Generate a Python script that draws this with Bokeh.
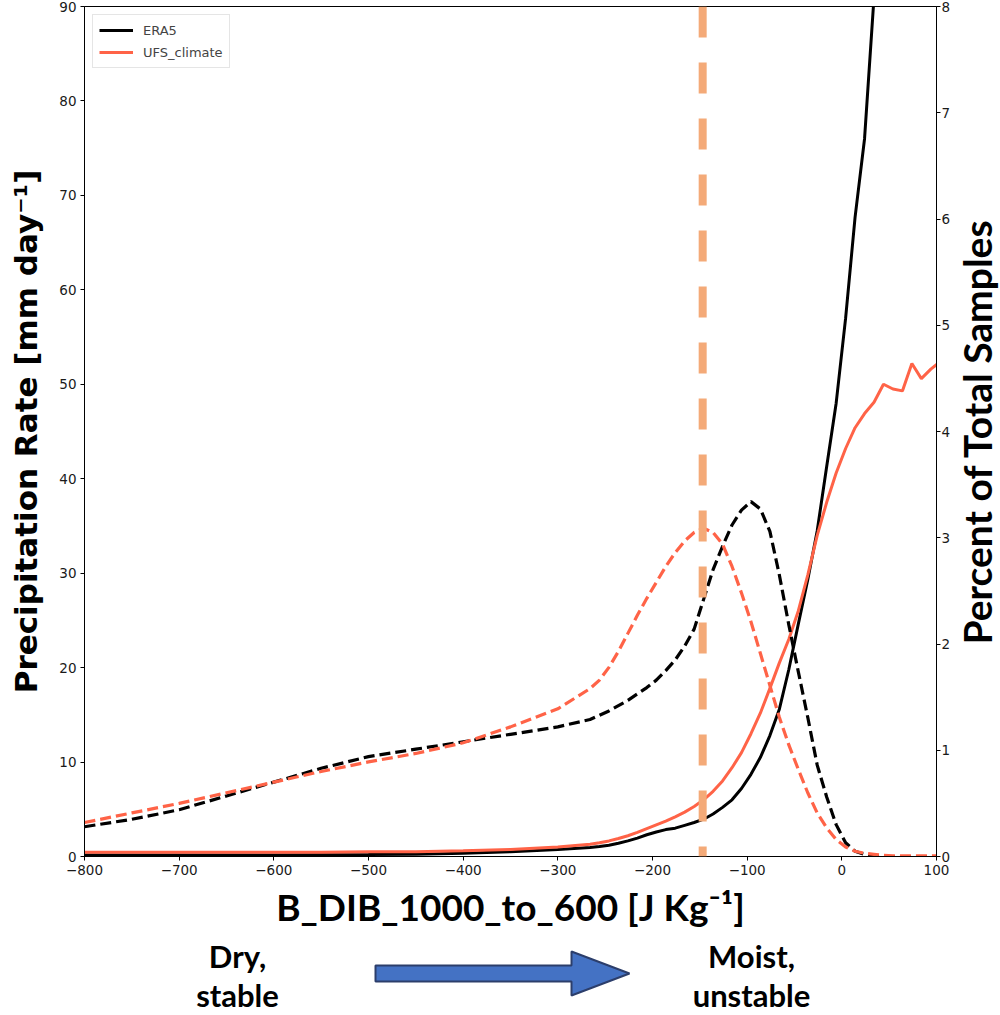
import math
from bokeh.plotting import figure
from bokeh.models import Range1d, LinearAxis, FixedTicker, Legend, LegendItem, Span
from bokeh.layouts import column, row
from bokeh.core.properties import value
from bokeh.embed import file_html
from bokeh.resources import INLINE

# ---------------- data ----------------
x_bins = [-800, -750, -700, -650, -600, -550, -500, -450, -400, -350, -300,
          -266, -256, -246, -236, -226, -216, -206, -196, -186, -176, -166,
          -156, -146, -136, -126, -116, -106, -96, -86, -76, -66, -56, -46,
          -36, -26, -16, -6, 4, 14, 24, 34, 44, 54, 64, 74, 84, 94, 104]

# precipitation rate [mm/day] (left axis, solid)
era5_precip = [0.15, 0.15, 0.15, 0.15, 0.15, 0.18, 0.2, 0.25, 0.35, 0.5, 0.75,
               0.95, 1.05, 1.2, 1.4, 1.65, 1.95, 2.3, 2.6, 2.85, 3.0, 3.3,
               3.6, 3.95, 4.5, 5.2, 6.0, 7.2, 8.7, 10.5, 12.8, 15.6, 19.8, 24.6,
               29.3, 34.5, 41.3, 48.0, 57.0, 67.7, 76.0, 91.0, 106.0]
ufs_precip = [0.45, 0.45, 0.45, 0.45, 0.45, 0.45, 0.5, 0.5, 0.6, 0.75, 1.0,
              1.3, 1.45, 1.65, 1.9, 2.2, 2.55, 2.95, 3.35, 3.75, 4.2, 4.7,
              5.3, 6.0, 6.9, 8.0, 9.4, 11.0, 13.0, 15.2, 17.8, 20.5, 23.0, 26.0,
              29.8, 34.0, 37.5, 40.6, 43.2, 45.4, 46.9, 48.1, 50.0, 49.5, 49.3,
              52.2, 50.6, 51.6, 52.4]

# percent of total samples (right axis, dashed)
era5_pct = [0.28, 0.35, 0.44, 0.57, 0.70, 0.83, 0.94, 1.01, 1.08, 1.15, 1.22,
            1.29, 1.33, 1.37, 1.42, 1.47, 1.53, 1.59, 1.66, 1.75, 1.85, 1.98,
            2.14, 2.42, 2.70, 2.92, 3.12, 3.26, 3.34, 3.27, 3.06, 2.65, 2.18, 1.74,
            1.31, 0.86, 0.56, 0.30, 0.13, 0.05, 0.02, 0.005, 0.0, 0.0, 0.0,
            0.0, 0.0, 0.0, 0.0]
ufs_pct = [0.32, 0.41, 0.50, 0.60, 0.70, 0.80, 0.89, 0.97, 1.07, 1.22, 1.39,
           1.58, 1.66, 1.78, 1.93, 2.10, 2.27, 2.43, 2.58, 2.73, 2.86, 2.97,
           3.05, 3.09, 3.05, 2.94, 2.73, 2.48, 2.21, 1.91, 1.61, 1.31, 1.05, 0.82,
           0.60, 0.41, 0.27, 0.16, 0.09, 0.05, 0.03, 0.02, 0.01, 0.007, 0.006,
           0.005, 0.005, 0.005, 0.005]

threshold_x = -147

series_names = ["ERA5", "UFS_climate"]
x_ticks = [-800, -700, -600, -500, -400, -300, -200, -100, 0, 100]
precip_ticks = [0, 10, 20, 30, 40, 50, 60, 70, 80, 90]
pct_ticks = [0, 1, 2, 3, 4, 5, 6, 7, 8]
x_label = "B_DIB_1000_to_600 [J Kg\u207b\u00b9]"
left_label = "Precipitation Rate [mm day\u207b\u00b9]"
right_label = "Percent of Total Samples"
note_left = ["Dry,", "stable"]
note_right = ["Moist,", "unstable"]

# ---------------- styles / layout (canvas pixels) ----------------
C_ERA5 = "black"
C_UFS = "tomato"
C_THR = "#F4AA78"
TICK_FONT = "DejaVu Sans"
TICK_SIZE = "13.5px"
W = 1000
FL, FT, FW, FH = 84, 6, 855, 850          # plot frame
MAIN_RB = 14                              # right border of the main figure
MAIN_W = FL + FW + MAIN_RB                # 953
MAIN_H = 935
STRIP_H = 79


def lab(v):
    return str(v).replace("-", "\u2212")


p = figure(width=MAIN_W, height=MAIN_H,
           x_range=Range1d(x_ticks[0], x_ticks[-1]),
           y_range=Range1d(precip_ticks[0], precip_ticks[-1]),
           output_backend="svg", toolbar_location=None,
           min_border_left=FL, min_border_right=MAIN_RB,
           min_border_top=FT, min_border_bottom=MAIN_H - FT - FH)
p.extra_y_ranges = {"pct": Range1d(pct_ticks[0], pct_ticks[-1])}
p.xgrid.visible = False
p.ygrid.visible = False
p.outline_line_color = "black"
p.outline_line_alpha = 1.0
p.outline_line_width = 1

r_era5 = p.line(x_bins[:len(era5_precip)], era5_precip, line_color=C_ERA5, line_width=3)
r_ufs = p.line(x_bins[:len(ufs_precip)], ufs_precip, line_color=C_UFS, line_width=3)
p.line(x_bins, era5_pct, y_range_name="pct", line_color=C_ERA5, line_width=3.2, line_dash="11 5")
p.line(x_bins, ufs_pct, y_range_name="pct", line_color=C_UFS, line_width=3.2, line_dash="11 5")

p.add_layout(Span(location=threshold_x, dimension="height", line_color=C_THR,
                  line_width=8, line_dash="31 25"))

xa = p.xaxis[0]
xa.ticker = FixedTicker(ticks=x_ticks)
xa.major_label_overrides = {t: lab(t) for t in x_ticks}
xa.axis_label = x_label
xa.axis_label_text_font = "Lato"
xa.axis_label_text_font_style = "bold"
xa.axis_label_text_font_size = "37px"
xa.axis_label_standoff = 6

ya = p.yaxis[0]
ya.ticker = FixedTicker(ticks=precip_ticks)
ya.axis_label = left_label
ya.axis_label_text_font = "DejaVu Sans"
ya.axis_label_text_font_style = "bold"
ya.axis_label_text_font_size = "31px"
ya.axis_label_standoff = 12

ra = LinearAxis(y_range_name="pct", ticker=FixedTicker(ticks=pct_ticks))
p.add_layout(ra, "right")

for ax in (xa, ya, ra):
    ax.major_label_text_font = TICK_FONT
    ax.major_label_text_font_size = TICK_SIZE
    ax.major_label_text_color = "#1a1a1a"
    ax.axis_label_text_color = "black"
    ax.major_tick_out = 4
    ax.major_tick_in = 0
    ax.minor_tick_out = 0
    ax.minor_tick_in = 0
    ax.axis_line_color = "black"
    ax.major_tick_line_color = "black"
    ax.major_label_standoff = 4
ra.major_label_standoff = 1

legend = Legend(items=[LegendItem(label=series_names[0], renderers=[r_era5]),
                       LegendItem(label=series_names[1], renderers=[r_ufs])],
                location="top_left")
legend.margin = 8
legend.padding = 6
legend.spacing = 4
legend.glyph_width = 34
legend.glyph_height = 18
legend.label_height = 18
legend.label_standoff = 10
legend.label_text_font = "DejaVu Sans"
legend.label_text_font_size = "13px"
legend.border_line_color = "#cccccc"
legend.border_line_width = 1
legend.background_fill_alpha = 0.8
p.add_layout(legend)

# ---------------- right strip: right-axis title (canvas pixel coordinates) ----------------
rs = figure(width=W - MAIN_W, height=MAIN_H,
            x_range=Range1d(MAIN_W, W), y_range=Range1d(FT + FH, FT),
            output_backend="svg", toolbar_location=None,
            min_border_left=0, min_border_right=0,
            min_border_top=FT, min_border_bottom=MAIN_H - FT - FH,
            x_axis_type=None, y_axis_type=None, outline_line_color=None)
rs.text(x=[(MAIN_W + W) / 2], y=[FT + FH / 2], text=[right_label], angle=math.pi / 2,
        text_font=value("Lato"), text_font_style="bold", text_font_size="39px",
        text_align="center", text_baseline="middle", text_color="black")

# ---------------- bottom strip: direction annotation (canvas pixel coordinates) ----------------
bs = figure(width=W, height=STRIP_H,
            x_range=Range1d(FL, FL + FW), y_range=Range1d(MAIN_H + STRIP_H, MAIN_H),
            output_backend="svg", toolbar_location=None,
            min_border_left=FL, min_border_right=W - FL - FW,
            min_border_top=0, min_border_bottom=0,
            x_axis_type=None, y_axis_type=None, outline_line_color=None)

arrow_x = [375, 571, 571, 629, 571, 571, 375]
arrow_y = [965, 965, 951, 973, 995, 981, 981]
bs.patch(arrow_x, arrow_y, fill_color="#4472C4", line_color="#2C3E6B", line_width=2)

bs.text(x=[237, 237, 751, 751], y=[955, 994, 955, 994], text=note_left + note_right,
        text_font=value("Lato"), text_font_style="bold", text_font_size="31px",
        text_align="center", text_baseline="middle", text_color="black")

layout = column(row(p, rs, spacing=0), bs, spacing=0)
open("out.html", "w").write(file_html(layout, INLINE))
